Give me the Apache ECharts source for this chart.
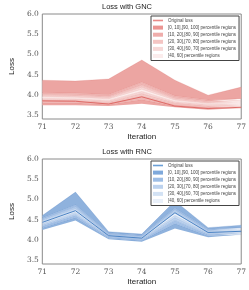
<!DOCTYPE html>
<html><head><meta charset="utf-8">
<script src="https://cdn.jsdelivr.net/npm/echarts@6/dist/echarts.min.js"></script>
<style>html,body{margin:0;padding:0;background:#fff}#c{width:249px;height:290px}</style>
</head><body><div id="c"></div>
<script>
const iterations = ['71', '72', '73', '74', '75', '76', '77'];
const yTicks = [3.5, 4.0, 4.5, 5.0, 5.5, 6.0];
const legendNames = [
  'Original loss',
  '[0, 10],[90, 100] percentile regions',
  '[10, 20],[80, 90] percentile regions',
  '[20, 30],[70, 80] percentile regions',
  '[30, 40],[60, 70] percentile regions',
  '[40, 60] percentile regions'
];

// GNC
const gncP0   = [3.74, 3.74, 3.72, 3.78, 3.69, 3.63, 3.63];
const gncP10  = [3.80, 3.80, 3.76, 3.88, 3.72, 3.66, 3.67];
const gncP20  = [3.85, 3.84, 3.80, 3.96, 3.76, 3.70, 3.71];
const gncP30  = [3.88, 3.87, 3.83, 4.03, 3.80, 3.73, 3.74];
const gncP40  = [3.91, 3.90, 3.86, 4.08, 3.83, 3.76, 3.77];
const gncP60  = [3.95, 3.94, 3.90, 4.14, 3.87, 3.79, 3.80];
const gncP70  = [3.98, 3.97, 3.93, 4.19, 3.90, 3.81, 3.83];
const gncP80  = [4.01, 4.00, 3.96, 4.24, 3.93, 3.84, 3.86];
const gncP90  = [4.05, 4.04, 4.00, 4.31, 3.97, 3.87, 3.90];
const gncP100 = [4.36, 4.34, 4.39, 4.86, 4.36, 3.99, 4.19];
const gncOriginal = [3.85, 3.84, 3.77, 3.95, 3.72, 3.66, 3.69];

// RNC
const rncP0   = [4.24, 4.48, 4.01, 3.95, 4.28, 4.06, 4.09];
const rncP10  = [4.30, 4.55, 4.04, 3.98, 4.40, 4.10, 4.13];
const rncP20  = [4.34, 4.60, 4.06, 4.00, 4.48, 4.13, 4.16];
const rncP30  = [4.37, 4.64, 4.08, 4.02, 4.55, 4.15, 4.18];
const rncP40  = [4.40, 4.68, 4.09, 4.03, 4.60, 4.17, 4.20];
const rncP60  = [4.45, 4.73, 4.11, 4.05, 4.66, 4.19, 4.22];
const rncP70  = [4.48, 4.77, 4.12, 4.07, 4.70, 4.21, 4.24];
const rncP80  = [4.51, 4.81, 4.14, 4.09, 4.74, 4.23, 4.27];
const rncP90  = [4.54, 4.86, 4.16, 4.11, 4.78, 4.26, 4.30];
const rncP100 = [4.60, 5.18, 4.20, 4.14, 4.96, 4.30, 4.36];
const rncOriginal = [4.43, 4.72, 4.10, 4.04, 4.67, 4.18, 4.21];

const redColors  = ['#eca5a2', '#f0b7b5', '#f4cac8', '#f8dcdb', '#fcefee'];
const blueColors = ['#8fb2dd', '#a5c2e7', '#bcd2ee', '#d3e2f5', '#eaf1fa'];
const redLegend  = ['#eb9592', '#efadab', '#f4c5c3', '#f7d8d7', '#fbecec'];
const blueLegend = ['#7fa9db', '#9dbde5', '#bcd2ee', '#d3e2f4', '#e9f0fa'];

function buildSeries(gi, pcts, orig, colors, lineColor, edgeColor, stackId) {
  const series = [];
  series.push({
    type: 'line', xAxisIndex: gi, yAxisIndex: gi, stack: stackId, name: 'base' + gi,
    data: pcts[0], symbol: 'none', lineStyle: { width: 0, opacity: 0 }, silent: true
  });
  const nameIdx = [1, 2, 3, 4, 5, 4, 3, 2, 1];
  for (let k = 1; k < pcts.length; k++) {
    const diff = pcts[k].map((v, i) => +(v - pcts[k - 1][i]).toFixed(4));
    const ni = nameIdx[k - 1];
    const col = colors[ni - 1];
    series.push({
      type: 'line', xAxisIndex: gi, yAxisIndex: gi, stack: stackId, name: legendNames[ni],
      data: diff, symbol: 'none',
      lineStyle: { width: 0.5, color: edgeColor },
      itemStyle: { color: col },
      areaStyle: { color: col, opacity: 1 },
      silent: true
    });
  }
  series.push({
    type: 'line', xAxisIndex: gi, yAxisIndex: gi, name: legendNames[0],
    data: orig, symbol: 'none', lineStyle: { width: 1, color: lineColor },
    itemStyle: { color: lineColor }, z: 5, silent: true
  });
  return series;
}

const gncPcts = [gncP0, gncP10, gncP20, gncP30, gncP40, gncP60, gncP70, gncP80, gncP90, gncP100];
const rncPcts = [rncP0, rncP10, rncP20, rncP30, rncP40, rncP60, rncP70, rncP80, rncP90, rncP100];

const tickFont = { fontFamily: 'DejaVu Serif', fontSize: 7.5, color: '#555' };
const nameFont = { fontFamily: 'Liberation Sans', fontSize: 8, color: '#222' };

function xAxis(gi) {
  return {
    type: 'category', gridIndex: gi, data: iterations, boundaryGap: false,
    axisLine: { show: false }, axisTick: { show: false }, splitLine: { show: false },
    axisLabel: Object.assign({ margin: 4 }, tickFont),
    name: 'Iteration', nameLocation: 'middle', nameGap: 13.5, nameTextStyle: nameFont
  };
}
function yAxis(gi) {
  return {
    type: 'value', gridIndex: gi, min: 3.4, max: 6.0,
    axisLine: { show: false }, axisTick: { show: false }, splitLine: { show: false },
    axisLabel: Object.assign({ margin: 3.5, customValues: yTicks, formatter: v => v.toFixed(1) }, tickFont),
    name: 'Loss', nameLocation: 'middle', nameGap: 15, nameTextStyle: nameFont
  };
}
function legend(top, lineColor, swatches) {
  return {
    left: 151, top: top, orient: 'vertical', padding: [2, 3, 2, 2],
    itemWidth: 10, itemHeight: 4, itemGap: 2.1,
    borderColor: '#444', borderWidth: 1, backgroundColor: '#fff',
    textStyle: { fontFamily: 'Liberation Sans', fontSize: 4.5, lineHeight: 5, color: '#444' },
    selectedMode: false,
    data: legendNames.map((n, i) => i === 0
      ? { name: n, icon: 'path://M0,0H10V1.6H0Z', itemStyle: { color: lineColor, borderWidth: 0, opacity: 1 }, lineStyle: { color: lineColor, width: 0 } }
      : { name: n, icon: 'rect', itemStyle: { color: swatches[i - 1], borderWidth: 0 } })
  };
}

const chart = echarts.init(document.getElementById('c'), null, { renderer: 'canvas' });
chart.setOption({
  animation: false,
  backgroundColor: '#fff',
  title: [
    { text: 'Loss with GNC', left: 127, textAlign: 'center', top: 3, textStyle: { fontFamily: 'Liberation Sans', fontSize: 7.5, fontWeight: 'normal', color: '#222' }, padding: 0 },
    { text: 'Loss with RNC', left: 127, textAlign: 'center', top: 148, textStyle: { fontFamily: 'Liberation Sans', fontSize: 7.5, fontWeight: 'normal', color: '#222' }, padding: 0 }
  ],
  grid: [
    { left: 27, right: 3, top: 14, height: 105, show: true, borderColor: '#8a8a8a', borderWidth: 1, backgroundColor: 'transparent' },
    { left: 27, right: 3, top: 159, height: 105, show: true, borderColor: '#8a8a8a', borderWidth: 1, backgroundColor: 'transparent' }
  ],
  xAxis: [xAxis(0), xAxis(1)],
  yAxis: [yAxis(0), yAxis(1)],
  legend: [legend(16, '#e88a88', redLegend), legend(161, '#6a9fd6', blueLegend)],
  series: [].concat(
    buildSeries(0, gncPcts, gncOriginal, redColors, '#de6a66', 'rgba(214,90,86,0.35)', 'g'),
    buildSeries(1, rncPcts, rncOriginal, blueColors, '#4b83c4', 'rgba(70,120,190,0.4)', 'r')
  )
});
</script>
</body></html>
